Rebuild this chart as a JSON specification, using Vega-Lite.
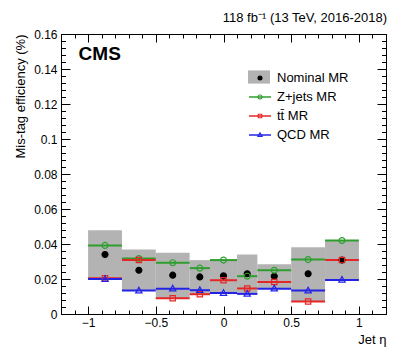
{
  "$schema": "https://vega.github.io/schema/vega-lite/v6.json",
  "width": 325,
  "height": 280,
  "autosize": {"type": "none"},
  "padding": {"left": 61, "top": 34, "right": 21, "bottom": 36},
  "background": "white",
  "title": {"text": "118 fb⁻¹ (13 TeV, 2016-2018)", "anchor": "end", "frame": "group", "font": "Liberation Sans", "fontSize": 13, "fontWeight": "normal", "color": "black", "offset": -7, "baseline": "alphabetic", "dx": 1},
  "datasets": {
    "band": [
      {"lo": -1.0, "hi": -0.75, "low": 0.0200, "high": 0.0478},
      {"lo": -0.75, "hi": -0.5, "low": 0.0134, "high": 0.0369},
      {"lo": -0.5, "hi": -0.25, "low": 0.0090, "high": 0.0350},
      {"lo": -0.25, "hi": -0.1, "low": 0.0113, "high": 0.0308},
      {"lo": -0.1, "hi": 0.1, "low": 0.0120, "high": 0.0311},
      {"lo": 0.1, "hi": 0.25, "low": 0.0115, "high": 0.0340},
      {"lo": 0.25, "hi": 0.5, "low": 0.0145, "high": 0.0285},
      {"lo": 0.5, "hi": 0.75, "low": 0.0071, "high": 0.0382},
      {"lo": 0.75, "hi": 1.0, "low": 0.0195, "high": 0.0420}
    ],
    "pts": [
      {"sample": "Nominal MR", "lo": -1.0, "hi": -0.75, "eta": -0.875, "eff": 0.0340},
      {"sample": "Nominal MR", "lo": -0.75, "hi": -0.5, "eta": -0.625, "eff": 0.0250},
      {"sample": "Nominal MR", "lo": -0.5, "hi": -0.25, "eta": -0.375, "eff": 0.0222},
      {"sample": "Nominal MR", "lo": -0.25, "hi": -0.1, "eta": -0.175, "eff": 0.0212},
      {"sample": "Nominal MR", "lo": -0.1, "hi": 0.1, "eta": 0.0, "eff": 0.0218},
      {"sample": "Nominal MR", "lo": 0.1, "hi": 0.25, "eta": 0.175, "eff": 0.0230},
      {"sample": "Nominal MR", "lo": 0.25, "hi": 0.5, "eta": 0.375, "eff": 0.0216},
      {"sample": "Nominal MR", "lo": 0.5, "hi": 0.75, "eta": 0.625, "eff": 0.0230},
      {"sample": "Nominal MR", "lo": 0.75, "hi": 1.0, "eta": 0.875, "eff": 0.0308},
      {"sample": "Z+jets MR", "lo": -1.0, "hi": -0.75, "eta": -0.875, "eff": 0.0392},
      {"sample": "Z+jets MR", "lo": -0.75, "hi": -0.5, "eta": -0.625, "eff": 0.0317},
      {"sample": "Z+jets MR", "lo": -0.5, "hi": -0.25, "eta": -0.375, "eff": 0.0293},
      {"sample": "Z+jets MR", "lo": -0.25, "hi": -0.1, "eta": -0.175, "eff": 0.0262},
      {"sample": "Z+jets MR", "lo": -0.1, "hi": 0.1, "eta": 0.0, "eff": 0.0308},
      {"sample": "Z+jets MR", "lo": 0.1, "hi": 0.25, "eta": 0.175, "eff": 0.0216},
      {"sample": "Z+jets MR", "lo": 0.25, "hi": 0.5, "eta": 0.375, "eff": 0.0250},
      {"sample": "Z+jets MR", "lo": 0.5, "hi": 0.75, "eta": 0.625, "eff": 0.0311},
      {"sample": "Z+jets MR", "lo": 0.75, "hi": 1.0, "eta": 0.875, "eff": 0.0420},
      {"sample": "tt̄ MR", "lo": -1.0, "hi": -0.75, "eta": -0.875, "eff": 0.0205},
      {"sample": "tt̄ MR", "lo": -0.75, "hi": -0.5, "eta": -0.625, "eff": 0.0309},
      {"sample": "tt̄ MR", "lo": -0.5, "hi": -0.25, "eta": -0.375, "eff": 0.0090},
      {"sample": "tt̄ MR", "lo": -0.25, "hi": -0.1, "eta": -0.175, "eff": 0.0113},
      {"sample": "tt̄ MR", "lo": -0.1, "hi": 0.1, "eta": 0.0, "eff": 0.0193},
      {"sample": "tt̄ MR", "lo": 0.1, "hi": 0.25, "eta": 0.175, "eff": 0.0146},
      {"sample": "tt̄ MR", "lo": 0.25, "hi": 0.5, "eta": 0.375, "eff": 0.0183},
      {"sample": "tt̄ MR", "lo": 0.5, "hi": 0.75, "eta": 0.625, "eff": 0.0071},
      {"sample": "tt̄ MR", "lo": 0.75, "hi": 1.0, "eta": 0.875, "eff": 0.0308},
      {"sample": "QCD MR", "lo": -1.0, "hi": -0.75, "eta": -0.875, "eff": 0.0200},
      {"sample": "QCD MR", "lo": -0.75, "hi": -0.5, "eta": -0.625, "eff": 0.0134},
      {"sample": "QCD MR", "lo": -0.5, "hi": -0.25, "eta": -0.375, "eff": 0.0145},
      {"sample": "QCD MR", "lo": -0.25, "hi": -0.1, "eta": -0.175, "eff": 0.0136},
      {"sample": "QCD MR", "lo": -0.1, "hi": 0.1, "eta": 0.0, "eff": 0.0120},
      {"sample": "QCD MR", "lo": 0.1, "hi": 0.25, "eta": 0.175, "eff": 0.0115},
      {"sample": "QCD MR", "lo": 0.25, "hi": 0.5, "eta": 0.375, "eff": 0.0145},
      {"sample": "QCD MR", "lo": 0.5, "hi": 0.75, "eta": 0.625, "eff": 0.0134},
      {"sample": "QCD MR", "lo": 0.75, "hi": 1.0, "eta": 0.875, "eff": 0.0195}
    ]
  },
  "layer": [
    {
      "data": {"name": "band"},
      "mark": {"type": "rect"},
      "encoding": {
        "x": {"field": "lo", "type": "quantitative", "scale": {"domain": [-1.2, 1.2], "nice": false, "zero": false},
          "axis": {"orient": "bottom", "title": "Jet η", "values": [-1.2, -1.1, -1.0, -0.9, -0.8, -0.7, -0.6, -0.5, -0.4, -0.3, -0.2, -0.1, 0, 0.1, 0.2, 0.3, 0.4, 0.5, 0.6, 0.7, 0.8, 0.9, 1.0, 1.1, 1.2],
            "labelExpr": "abs(datum.value*2 - round(datum.value*2)) < 0.001 ? format(datum.value, '~g') : ''",
            "tickSize": {"condition": {"test": "abs(datum.value*2 - round(datum.value*2)) < 0.001", "value": -8}, "value": -4},
            "labelPadding": 11, "labelFlush": false,
            "titleAnchor": "end", "titleAlign": "right", "titleX": 325, "titleY": 29, "titleBaseline": "alphabetic", "titleFontSize": 13}},
        "x2": {"field": "hi"},
        "y": {"field": "low", "type": "quantitative", "scale": {"domain": [0, 0.16], "nice": false},
          "axis": {"orient": "left", "title": "Mis-tag efficiency (%)", "values": [0, 0.004, 0.008, 0.012, 0.016, 0.02, 0.024, 0.028, 0.032, 0.036, 0.04, 0.044, 0.048, 0.052, 0.056, 0.06, 0.064, 0.068, 0.072, 0.076, 0.08, 0.084, 0.088, 0.092, 0.096, 0.1, 0.104, 0.108, 0.112, 0.116, 0.12, 0.124, 0.128, 0.132, 0.136, 0.14, 0.144, 0.148, 0.152, 0.156, 0.16],
            "labelExpr": "abs(datum.value*50 - round(datum.value*50)) < 0.001 ? format(datum.value, '~g') : ''",
            "tickSize": {"condition": {"test": "abs(datum.value*50 - round(datum.value*50)) < 0.001", "value": -9}, "value": -4.5},
            "labelPadding": 13, "labelFlush": false,
            "titleAngle": 270, "titleAnchor": "end", "titleAlign": "right", "titleX": -41, "titleY": 0, "titleBaseline": "middle", "titleFontSize": 13}},
        "y2": {"field": "high"},
        "fill": {"datum": "Nominal MR", "type": "nominal",
          "scale": {"domain": ["Nominal MR", "Z+jets MR", "tt̄ MR", "QCD MR"], "range": ["#b3b3b3", "rgba(0,0,0,0)", "rgba(0,0,0,0)", "rgba(0,0,0,0)"]},
          "legend": {"orient": "none", "legendX": 187, "legendY": 32, "title": null, "symbolType": "M-1,-0.6H1V0.6H-1Z", "symbolStrokeWidth": 0, "labelExpr": "''", "zindex": 0}}
      }
    },
    {
      "data": {"name": "pts"},
      "transform": [{"filter": "datum.sample !== 'Nominal MR'"}],
      "mark": {"type": "rule", "strokeWidth": 2},
      "encoding": {
        "x": {"field": "lo", "type": "quantitative", "scale": {"domain": [-1.2, 1.2], "nice": false, "zero": false},
          "axis": {"orient": "top", "title": null, "labels": false, "values": [-1.2, -1.1, -1.0, -0.9, -0.8, -0.7, -0.6, -0.5, -0.4, -0.3, -0.2, -0.1, 0, 0.1, 0.2, 0.3, 0.4, 0.5, 0.6, 0.7, 0.8, 0.9, 1.0, 1.1, 1.2],
            "tickSize": {"condition": {"test": "abs(datum.value*2 - round(datum.value*2)) < 0.001", "value": -8}, "value": -4}}},
        "x2": {"field": "hi"},
        "y": {"field": "eff", "type": "quantitative", "scale": {"domain": [0, 0.16], "nice": false},
          "axis": {"orient": "right", "title": null, "labels": false, "values": [0, 0.004, 0.008, 0.012, 0.016, 0.02, 0.024, 0.028, 0.032, 0.036, 0.04, 0.044, 0.048, 0.052, 0.056, 0.06, 0.064, 0.068, 0.072, 0.076, 0.08, 0.084, 0.088, 0.092, 0.096, 0.1, 0.104, 0.108, 0.112, 0.116, 0.12, 0.124, 0.128, 0.132, 0.136, 0.14, 0.144, 0.148, 0.152, 0.156, 0.16],
            "tickSize": {"condition": {"test": "abs(datum.value*50 - round(datum.value*50)) < 0.001", "value": -9}, "value": -4.5}}},
        "stroke": {"field": "sample", "type": "nominal",
          "scale": {"domain": ["Nominal MR", "Z+jets MR", "tt̄ MR", "QCD MR"], "range": ["rgba(0,0,0,0)", "#2e9e2e", "#e62626", "#2323e6"]},
          "legend": {"orient": "none", "legendX": 187, "legendY": 32, "title": null, "symbolType": "stroke", "symbolStrokeWidth": 1.5, "labelExpr": "''", "zindex": 1}}
      }
    },
    {
      "data": {"name": "pts"},
      "mark": {"type": "point", "size": 1089, "strokeWidth": 1.2, "opacity": 1},
      "encoding": {
        "x": {"field": "eta", "type": "quantitative", "scale": {"domain": [-1.2, 1.2], "nice": false, "zero": false}, "axis": null},
        "y": {"field": "eff", "type": "quantitative", "scale": {"domain": [0, 0.16], "nice": false}, "axis": null},
        "shape": {"field": "sample", "type": "nominal",
          "scale": {"domain": ["Nominal MR", "Z+jets MR", "tt̄ MR", "QCD MR"], "range": ["M-0.18,0A0.18,0.18 0 1,0 0.18,0A0.18,0.18 0 1,0 -0.18,0Z", "M-0.18,0A0.18,0.18 0 1,0 0.18,0A0.18,0.18 0 1,0 -0.18,0Z", "M-0.16,-0.16H0.16V0.16H-0.16Z", "M0,-0.2L0.19,0.14H-0.19Z"]},
          "legend": {"orient": "none", "legendX": 187, "legendY": 32, "title": null, "symbolStrokeWidth": 1.1, "zindex": 2}},
        "stroke": {"field": "sample", "type": "nominal",
          "scale": {"domain": ["Nominal MR", "Z+jets MR", "tt̄ MR", "QCD MR"], "range": ["black", "#2e9e2e", "#e62626", "#2323e6"]},
          "legend": {"orient": "none", "legendX": 187, "legendY": 32, "title": null, "symbolStrokeWidth": 1.1, "zindex": 2}},
        "fill": {"field": "sample", "type": "nominal",
          "scale": {"domain": ["Nominal MR", "Z+jets MR", "tt̄ MR", "QCD MR"], "range": ["black", "rgba(0,0,0,0)", "rgba(0,0,0,0)", "rgba(0,0,0,0)"]},
          "legend": {"orient": "none", "legendX": 187, "legendY": 32, "title": null, "symbolStrokeWidth": 1.1, "zindex": 2}}
      }
    },
    {
      "data": {"values": [{"label": "CMS"}]},
      "mark": {"type": "text", "font": "Liberation Sans", "fontWeight": "bold", "fontSize": 19, "align": "left", "baseline": "alphabetic", "color": "black"},
      "encoding": {
        "x": {"datum": -1.07, "type": "quantitative", "scale": {"domain": [-1.2, 1.2], "nice": false, "zero": false}, "axis": null},
        "y": {"datum": 0.145, "type": "quantitative", "scale": {"domain": [0, 0.16], "nice": false}, "axis": null},
        "text": {"field": "label", "type": "nominal"}
      }
    }
  ],
  "resolve": {
    "scale": {"fill": "independent", "stroke": "independent", "shape": "independent"},
    "axis": {"x": "independent", "y": "independent"}
  },
  "config": {
    "view": {"stroke": "black", "strokeWidth": 1},
    "axis": {"grid": false, "domain": false, "labelFont": "Liberation Sans", "labelFontSize": 12, "labelColor": "black", "titleFont": "Liberation Sans", "titleFontWeight": "normal", "titleColor": "black", "tickColor": "black", "tickWidth": 1},
    "legend": {"padding": 0, "offset": 0, "labelFont": "Liberation Sans", "labelFontSize": 13, "labelColor": "black", "symbolSize": 484, "labelOffset": 5, "rowPadding": -5}
  }
}
